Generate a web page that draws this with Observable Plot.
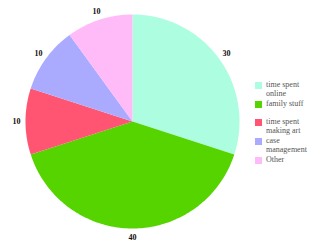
<!DOCTYPE html>
<html>
<head>
<meta charset="utf-8">
<script src="https://cdn.jsdelivr.net/npm/d3@7"></script>
<script src="https://cdn.jsdelivr.net/npm/@observablehq/plot@0.6"></script>
<style>
  html, body { margin: 0; padding: 0; background: #fff; }
  #wrap { position: relative; width: 320px; height: 247px; overflow: hidden; }
  #legend { position: absolute; left: 255px; top: 81px; font-family: "Liberation Serif", serif; font-size: 8px; color: #555; }
  .item { display: flex; align-items: flex-start; height: 18.7px; }
  .sw { width: 7px; height: 7px; margin-right: 4px; margin-top: 1px; flex: none; }
  .lab { width: 50px; line-height: 8.6px; }
</style>
</head>
<body>
<div id="wrap"></div>
<script>
const categories = ["time spent online", "family stuff", "time spent making art", "case management", "Other"];
const values = [30, 40, 10, 10, 10];
const colors = ["#adfde0", "#55d400", "#ff5572", "#aaaaff", "#ffbbf8"];

const arcs = d3.pie().sort(null).value(d => d)(values);
const slicePts = [];
arcs.forEach((a, i) => {
  const n = Math.max(4, Math.ceil((a.endAngle - a.startAngle) / 0.02));
  slicePts.push({cat: categories[i], x: 0, y: 0});
  for (let k = 0; k <= n; k++) {
    const t = a.startAngle + (a.endAngle - a.startAngle) * k / n;
    slicePts.push({cat: categories[i], x: Math.sin(t), y: Math.cos(t)});
  }
  slicePts.push({cat: categories[i], x: 0, y: 0});
});
const labels = arcs.map((a, i) => {
  const m = (a.startAngle + a.endAngle) / 2;
  return {v: values[i], x: 1.085 * Math.sin(m), y: 1.085 * Math.cos(m)};
});

const chart = Plot.plot({
  width: 320, height: 247,
  margin: 0,
  x: {domain: [-1, 1], range: [25, 239], axis: null},
  y: {domain: [-1, 1], range: [228, 14], axis: null},
  color: {domain: categories, range: colors},
  marks: [
    Plot.line(slicePts, {x: "x", y: "y", z: "cat", fill: "cat", stroke: "none", curve: "linear"}),
    Plot.text(labels, {x: "x", y: "y", text: d => String(d.v), fontFamily: "Liberation Serif, serif", fontWeight: "bold", fontSize: 8, fill: "#111"})
  ]
});
chart.style.fontFamily = "Liberation Serif, serif";
const wrap = document.getElementById("wrap");
wrap.appendChild(chart);

const legend = document.createElement("div");
legend.id = "legend";
categories.forEach((c, i) => {
  const it = document.createElement("div");
  it.className = "item";
  const sw = document.createElement("div");
  sw.className = "sw";
  sw.style.background = colors[i];
  const lab = document.createElement("div");
  lab.className = "lab";
  lab.textContent = c;
  it.appendChild(sw); it.appendChild(lab);
  legend.appendChild(it);
});
wrap.appendChild(legend);
</script>
</body>
</html>
